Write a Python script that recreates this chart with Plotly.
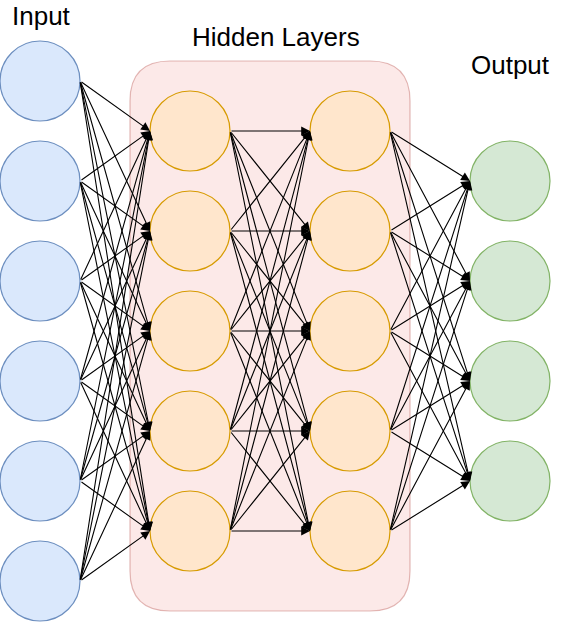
import plotly.graph_objects as go

# network structure
layer_names = ["Input", "Hidden Layers", "Hidden Layers", "Output"]
layer_sizes = [6, 5, 5, 4]
layer_x = [40, 190, 350, 510]
layer_top = [81, 131, 131, 181]
node_gap = 100
node_d = 80

fills = ["#dae8fc", "#ffe6cc", "#ffe6cc", "#d5e8d4"]
edges = ["#6c8ebf", "#d79b00", "#d79b00", "#82b366"]

# node positions
nodes = []
for i, n in enumerate(layer_sizes):
    ys = [layer_top[i] + k * node_gap for k in range(n)]
    nodes.append(ys)

fig = go.Figure()

for i, ys in enumerate(nodes):
    fig.add_trace(go.Scatter(
        x=[layer_x[i]] * len(ys), y=ys, mode="markers",
        marker=dict(size=node_d, color=fills[i], line=dict(color=edges[i], width=1.2)),
        hoverinfo="skip", showlegend=False))

r = node_d / 2
annotations = []
for i in range(len(nodes) - 1):
    for ys in nodes[i]:
        for yt in nodes[i + 1]:
            annotations.append(dict(
                x=layer_x[i + 1] - r, y=yt, ax=layer_x[i] + r, ay=ys,
                xref="x", yref="y", axref="x", ayref="y",
                showarrow=True, arrowhead=2, arrowsize=1.6, arrowwidth=1.1,
                arrowcolor="black", standoff=0, startstandoff=0, text=""))

lbl_font = dict(family="Liberation Sans, Arial, sans-serif", size=26, color="black")
annotations += [
    dict(x=layer_x[0] + 1, y=16, text=layer_names[0], showarrow=False, font=lbl_font),
    dict(x=(layer_x[1] + layer_x[2]) / 2 + 6, y=37, text=layer_names[1], showarrow=False, font=lbl_font),
    dict(x=layer_x[3], y=65, text=layer_names[3], showarrow=False, font=lbl_font),
]

# rounded box behind the hidden layers
x0, x1, y0, y1, c = 130, 410, 61, 611, 40
box = (f"M {x0+c},{y0} L {x1-c},{y0} Q {x1},{y0} {x1},{y0+c} "
       f"L {x1},{y1-c} Q {x1},{y1} {x1-c},{y1} L {x0+c},{y1} "
       f"Q {x0},{y1} {x0},{y1-c} L {x0},{y0+c} Q {x0},{y0} {x0+c},{y0} Z")

fig.update_layout(
    width=561, height=622,
    margin=dict(l=0, r=0, t=0, b=0),
    paper_bgcolor="white", plot_bgcolor="white",
    xaxis=dict(range=[0, 561], visible=False, fixedrange=True),
    yaxis=dict(range=[622, 0], visible=False, fixedrange=True),
    shapes=[dict(type="path", path=box, xref="x", yref="y", layer="below",
                 fillcolor="rgba(248,206,204,0.45)",
                 line=dict(color="rgba(184,84,80,0.4)", width=1.2))],
    annotations=annotations,
)

# page margin off so the figure sits at 0,0
fig.write_html("out.html", config={"displayModeBar": False},
               post_script="document.body.style.margin='0';")
